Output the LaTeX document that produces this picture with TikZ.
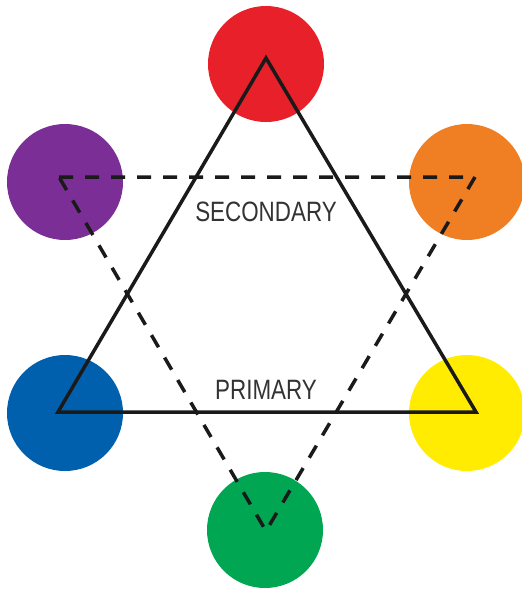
\documentclass[tikz,border=0pt]{standalone}
\usepackage{fontspec}
\usepackage{graphicx}
\setmainfont{Liberation Sans}
\definecolor{cred}{HTML}{E8202A}
\definecolor{cpurple}{HTML}{7A2E96}
\definecolor{corange}{HTML}{F07E22}
\definecolor{cblue}{HTML}{0060AE}
\definecolor{cyellow}{HTML}{FFEC00}
\definecolor{cgreen}{HTML}{00A651}
\definecolor{cline}{HTML}{1A1A1A}
\definecolor{ctext}{HTML}{333333}
\tikzset{
  dot/.style={circle, minimum size=116pt, inner sep=0pt, fill=#1},
  tri/.style={draw=cline, line width=3.5pt, line join=miter},
  dtri/.style={draw=cline, line width=3.5pt, line join=miter, dash pattern=on 14pt off 12pt},
  lbl/.style={text=ctext, font=\fontsize{28}{28}\selectfont, inner sep=0pt}
}
\begin{document}
\begin{tikzpicture}[x=1pt,y=-1pt]
\useasboundingbox (0,0) rectangle (522,590);
\node[dot=cred] (red) at (266,64) {};
\node[dot=cpurple] (purple) at (65,182) {};
\node[dot=corange] (orange) at (467,182) {};
\node[dot=cblue] (blue) at (65,413) {};
\node[dot=cyellow] (yellow) at (467,413) {};
\node[dot=cgreen] (green) at (265,530) {};
\coordinate (p1) at (266,58);
\coordinate (p2) at (58,412);
\coordinate (p3) at (476,412);
\coordinate (s1) at (59,177);
\coordinate (s2) at (475,177);
\coordinate (s3) at (266,531);
\draw[tri] (p1) -- (p2) -- (p3) -- cycle;
\draw[dtri] (s1) -- (s2) -- (s3) -- cycle;
\node[lbl] (sec) at (266,212) {\scalebox{0.8}[1]{SECONDARY}};
\node[lbl] (pri) at (266,390) {\scalebox{0.8}[1]{PRIMARY}};
\end{tikzpicture}
\end{document}
